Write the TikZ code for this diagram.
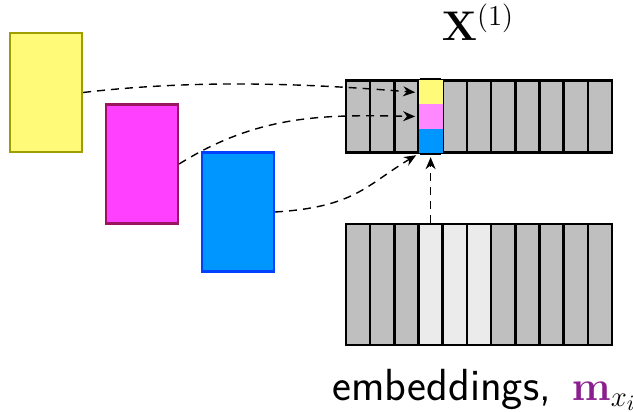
\documentclass[tikz,border=0pt]{standalone}
\usetikzlibrary{arrows.meta}
\newlength{\du}
\setlength{\du}{0.5pt}

\begin{document}
\begin{tikzpicture}[x=\du,y=-\du]
\definecolor{ylwfill}{rgb}{1.000000, 0.980000, 0.470000}
\definecolor{ylwline}{rgb}{0.620000, 0.620000, 0.000000}
\definecolor{magfill}{rgb}{1.000000, 0.250000, 1.000000}
\definecolor{magline}{rgb}{0.600000, 0.080000, 0.380000}
\definecolor{blufill}{rgb}{0.000000, 0.590000, 1.000000}
\definecolor{bluline}{rgb}{0.000000, 0.250000, 1.000000}
\definecolor{pinkfill}{rgb}{1.000000, 0.530000, 1.000000}
\definecolor{cellgray}{rgb}{0.750000, 0.750000, 0.750000}
\definecolor{celllight}{rgb}{0.920000, 0.920000, 0.920000}
\definecolor{mpurple}{rgb}{0.550000, 0.120000, 0.560000}
\tikzset{
  srcbox/.style={draw, line width=1.1pt, minimum width=72\du, minimum height=119\du, inner sep=0pt},
  cell/.style={draw, line width=1.3pt, fill=cellgray, minimum width=24.18\du, minimum height=#1, inner sep=0pt},
  part/.style={fill=#1, minimum width=24.18\du, minimum height=24.2\du, inner sep=0pt},
  flow/.style={dash pattern=on 4pt off 3pt, line width=0.7pt, -{Stealth[length=6pt,width=5pt]}}
}
\useasboundingbox (0,0) rectangle (633,412);
% source boxes
\node[srcbox, fill=ylwfill, draw=ylwline] (ysrc) at (46,92.5) {};
\node[srcbox, fill=magfill, draw=magline] (msrc) at (142,164) {};
\node[srcbox, fill=blufill, draw=bluline] (bsrc) at (238,212) {};
% row X^(1)
\foreach \i in {1,...,11}
  \node[cell=72.5\du] (x\i) at ({346+(\i-0.5)*24.18},116.5) {};
\node[part=ylwfill] (cy) at (x4.center) [yshift=24.2\du] {};
\node[part=pinkfill] (cm) at (x4.center) {};
\node[part=blufill] (cb) at (x4.center) [yshift=-24.2\du] {};
\draw[line width=1.3pt] (x3.north east) -- (x5.north west) (x3.south east) -- (x5.south west);
\node (xlab) at (478,22) {\fontsize{20.5}{22}\selectfont $\mathbf{X}^{(1)}$};
% row of embeddings
\foreach \i in {1,...,11}
  \node[cell=121\du] (e\i) at ({346+(\i-0.5)*24.18},284.5) {};
\foreach \i in {4,5,6}
  \node[cell=121\du, fill=celllight] at (e\i) {};
\node[anchor=base west, inner sep=0pt] (elab) at (332,400) {\fontsize{22.5}{24}\selectfont\sffamily embeddings, $\,\mathbf{\color{mpurple}m}_{x_i}$};
% connectors
\draw[flow] (ysrc.east) .. controls +(120,-14) and +(-100,-8) .. ([xshift=-3\du]cy.west);
\draw[flow] (msrc.east) .. controls +(80,-50) and +(-90,-2) .. ([xshift=-3\du]cm.west);
\draw[flow] (bsrc.east) .. controls +(80,-5) and +(-50,30) .. ([shift={(-2\du,-2\du)}]cb.south west);
\draw[flow] (e4.north) -- ([yshift=-4\du]cb.south);
\end{tikzpicture}
\end{document}
